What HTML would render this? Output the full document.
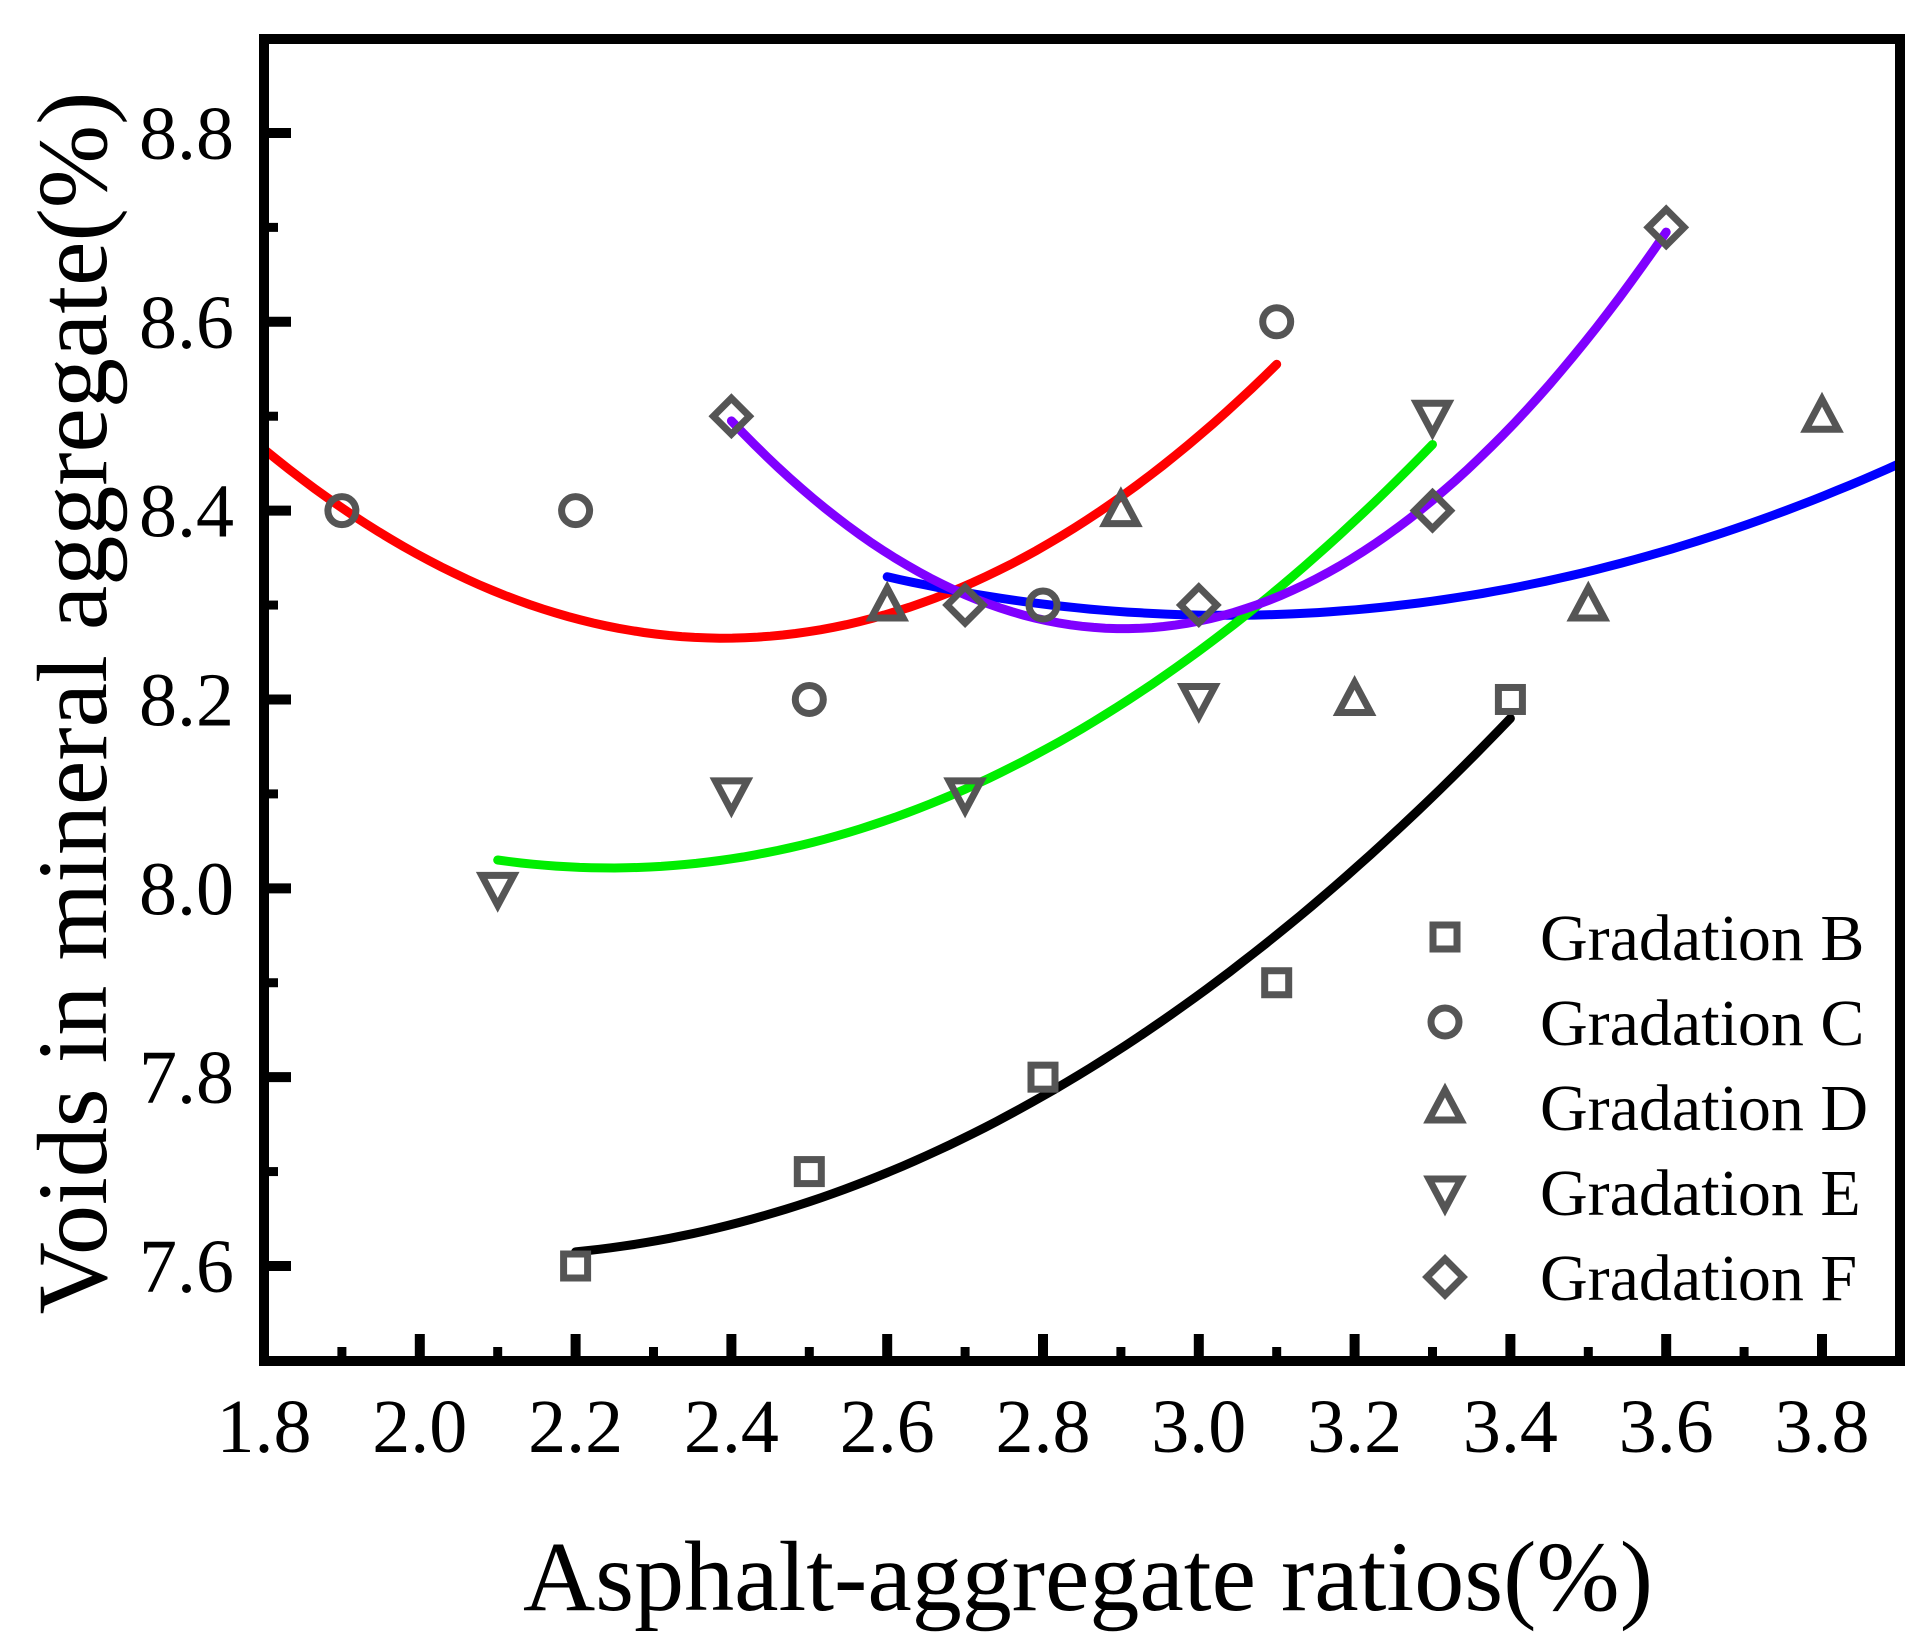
<!DOCTYPE html>
<html><head><meta charset="utf-8"><style>
html,body{margin:0;padding:0;background:#fff;}
svg{display:block;}
text{font-family:"Liberation Serif",serif;fill:#000;}
</style></head><body>
<svg id="s" width="1932" height="1643" viewBox="0 0 1932 1643" xmlns="http://www.w3.org/2000/svg">
<rect x="0" y="0" width="1932" height="1643" fill="#fff"/>
<g id="curves" fill="none" stroke-width="9" stroke-linecap="round"></g>
<g id="marks" fill="none" stroke="#555" stroke-width="7"></g>
<rect x="264" y="39" width="1636" height="1322" fill="none" stroke="#000" stroke-width="10"/>
<g id="ticks" stroke="#000"></g>
<g id="labels" font-size="76"></g>
<text x="1088" y="1610" font-size="100" text-anchor="middle">Asphalt-aggregate ratios(%)</text>
<text transform="translate(106,703) rotate(-90)" font-size="100" text-anchor="middle">Voids in mineral aggregate(%)</text>
<g id="legend" font-size="66"></g>
</svg>
<script>
var NS="http://www.w3.org/2000/svg";
function X(v){return 264+(v-1.8)*779;}
function Y(v){return 1266-(v-7.6)*944.2;}
function el(tag,attrs,parent,txt){var e=document.createElementNS(NS,tag);for(var k in attrs)e.setAttribute(k,attrs[k]);if(txt!=null)e.textContent=txt;document.getElementById(parent).appendChild(e);return e;}
for(var i=0;i<=21;i++){var v=1.8+i*0.1;var major=(i%2==0);var x=X(v);
 el('line',{x1:x,y1:1356,x2:x,y2:major?1334:1347,'stroke-width':major?10:9},'ticks');
 if(major)el('text',{x:x,y:1452,'text-anchor':'middle'},'labels',v.toFixed(1));}
for(var i=0;i<=13;i++){var v=7.5+i*0.1;var major=(Math.round(v*10)%2==0);var y=Y(v);
 if(y<45||y>1356)continue;
 el('line',{x1:269,y1:y,x2:major?291:278,y2:y,'stroke-width':major?10:9},'ticks');
 if(major)el('text',{x:234,y:y+26,'text-anchor':'end'},'labels',v.toFixed(1));}
function quad(p,x0,x1,color){var d='';for(var k=0;k<=80;k++){var x=x0+(x1-x0)*k/80;var y=0;
 for(var i=0;i<3;i++){var t=p[i][1];for(var j=0;j<3;j++)if(j!=i)t*=(x-p[j][0])/(p[i][0]-p[j][0]);y+=t;}
 d+=(k?'L':'M')+X(x).toFixed(1)+' '+Y(y).toFixed(1);}
 el('path',{d:d,stroke:color},'curves');}
quad([[2.2,7.615],[2.8,7.78],[3.4,8.18]],2.2,3.4,'#000');
quad([[1.8,8.465],[2.4,8.265],[3.1,8.555]],1.8,3.1,'#ff0000');
quad([[2.6,8.33],[3.1,8.29],[3.9,8.45]],2.6,3.9,'#0000ff');
quad([[2.1,8.03],[2.7,8.105],[3.3,8.47]],2.1,3.3,'#00ee00');
quad([[2.4,8.495],[2.9,8.275],[3.6,8.695]],2.4,3.6,'#8000ff');
function marker(t,cx,cy,par){var r=14;
 if(t=='s')el('rect',{x:cx-r+2,y:cy-r+2,width:2*r-4,height:2*r-4},par);
 else if(t=='c')el('circle',{cx:cx,cy:cy,r:r},par);
 else if(t=='u')el('polygon',{points:(cx)+','+(cy-r-3)+' '+(cx+r+2)+','+(cy+r-1)+' '+(cx-r-2)+','+(cy+r-1)},par);
 else if(t=='d')el('polygon',{points:(cx)+','+(cy+r+3)+' '+(cx+r+2)+','+(cy-r+1)+' '+(cx-r-2)+','+(cy-r+1)},par);
 else el('polygon',{points:cx+','+(cy-r-4)+' '+(cx+r+4)+','+cy+' '+cx+','+(cy+r+4)+' '+(cx-r-4)+','+cy},par);}
var data={s:[[2.2,7.6],[2.5,7.7],[2.8,7.8],[3.1,7.9],[3.4,8.2]],
c:[[1.9,8.4],[2.2,8.4],[2.5,8.2],[2.8,8.3],[3.1,8.6]],
u:[[2.6,8.3],[2.9,8.4],[3.2,8.2],[3.5,8.3],[3.8,8.5]],
d:[[2.1,8.0],[2.4,8.1],[2.7,8.1],[3.0,8.2],[3.3,8.5]],
f:[[2.4,8.5],[2.7,8.3],[3.0,8.3],[3.3,8.4],[3.6,8.7]]};
for(var t in data)data[t].forEach(function(p){marker(t,X(p[0]),Y(p[1]),'marks');});
var names=['B','C','D','E','F'],types=['s','c','u','d','f'];
for(var i=0;i<5;i++){var y=937+i*85;
 var g=el('g',{fill:'none',stroke:'#555','stroke-width':7},'legend');g.id='lg'+i;marker(types[i],1445,y,'lg'+i);
 el('text',{x:1540,y:y+23},'legend','Gradation '+names[i]);}
</script>
</body></html>
